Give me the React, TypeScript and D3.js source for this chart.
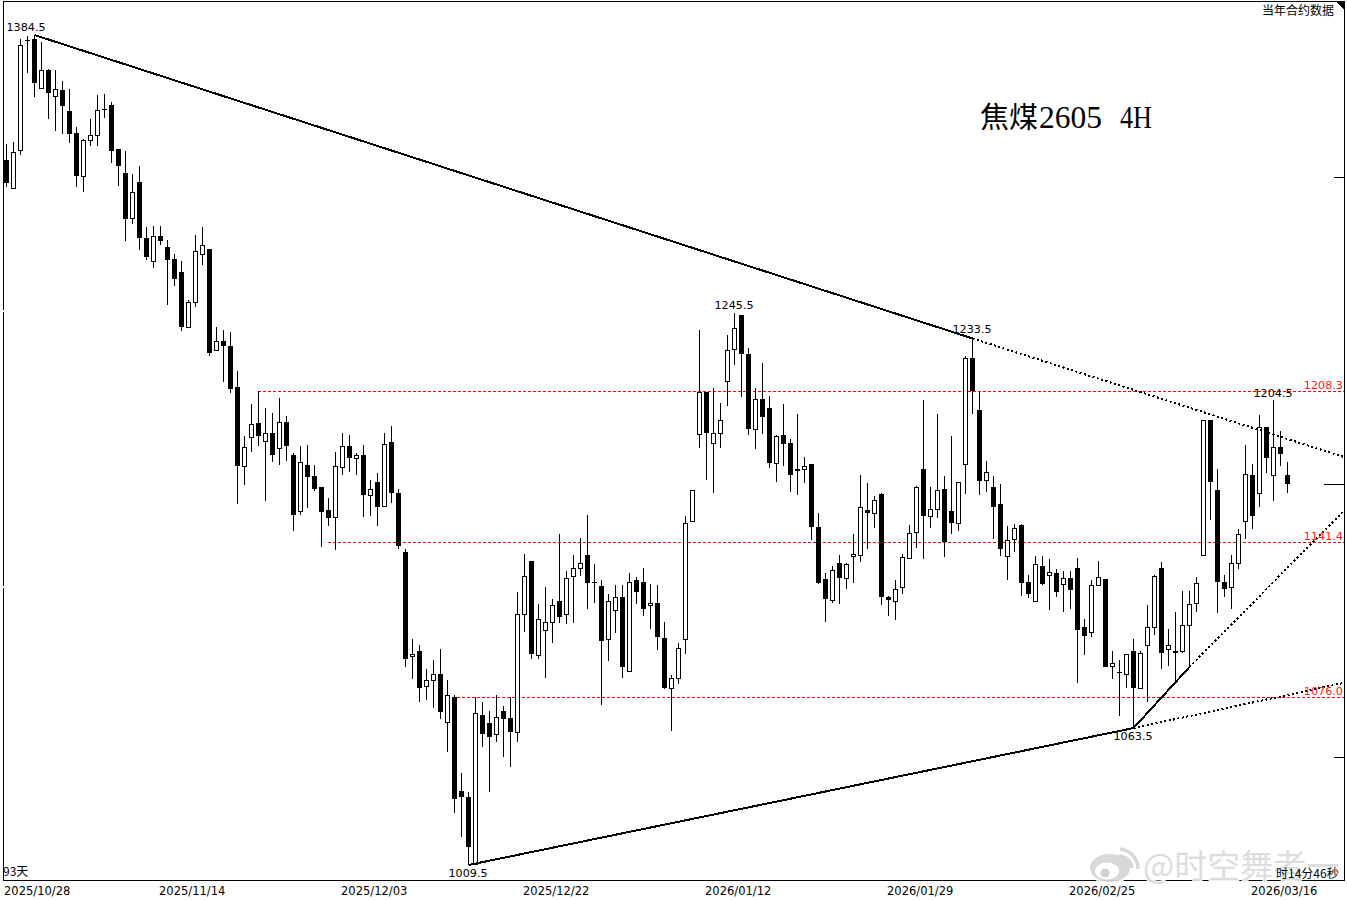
import React from "react";
import * as d3 from "d3";

const opens = [
1320,1306,1325,1382,1382.5,1357,1366,1352.5,1356,1345,
1334,1312,1330.5,1333,1346,1348,1325.5,1313.5,1291.5,1309,
1281.5,1270.5,1282.5,1277,1271.5,1265,1239,1250.5,1274,1276,
1228,1232.5,1230,1211,1175,1188,1194.5,1186.5,1190,1183,
1195,1180,1155,1175.5,1170.5,1165.5,1155.5,1152.5,1174.5,1184,
1178.5,1180,1162,1168,1157.5,1186,1163,1137,1093,1095,
1080.5,1083,1085.5,1066,1076,1038.5,1036,1010,1069,1065.5,
1061,1070.5,1067.5,1062,1110.5,1133.5,1093.5,1104,1107.5,1116,
1110.5,1127,1130.5,1136,1124.5,1122.5,1100,1112.5,1118,1087,
1125,1124.5,1114.5,1115.5,1100.5,1080,1084,1100,1150.5,1189.5,
1208.5,1185.5,1190,1213.5,1228.5,1244.5,1226,1191.5,1205.5,1201.5,
1176.5,1189,1185.5,1173.5,1173.5,1176,1148,1125.5,1116.5,1132.5,
1126,1135.5,1136,1155.5,1154,1162.5,1118,1116,1122,1134.5,
1146,1173.5,1153,1156,1165,1155,1150,1176,1224.5,1200.5,
1169,1165.5,1158,1135.5,1143,1149,1124.5,1116,1131,1127.5,
1128,1123.5,1126,1130.5,1105,1103,1123,1125.5,1089,1086.5,
1085.5,1095,1080,1097.5,1105,1130.5,1096,1095,1095,1106,
1115.5,1136,1196,1164.5,1124.5,1122,1132.5,1150.5,1171,1163,
1192.5,1171,1183.5,1171];

const highs = [
1328,1329,1382.5,1384,1384.5,1381,1366.5,1366,1360.5,1356.5,
1337,1331,1341,1353,1354,1349.5,1325.5,1324.5,1313,1317,
1287,1287.5,1287.5,1280.5,1274,1270.5,1251.5,1283,1287,1276,
1239,1237.5,1236.5,1218.5,1188.5,1203,1209,1201.5,1199,1206,
1197.5,1181,1184,1184.5,1175.5,1165.5,1161,1181.5,1190,1189,
1181,1184.5,1169,1172,1190,1193,1165,1138.5,1100,1097.5,
1087.5,1091.5,1096,1083,1077,1045.5,1038,1076,1074,1070.5,
1077,1072.5,1076,1120,1136.5,1133.5,1115,1122,1117,1145,
1129,1136,1143.5,1153.5,1132,1125,1119,1123,1123,1128,
1126.5,1130.5,1123.5,1123,1107.5,1085,1098.5,1153,1164.5,1237.5,
1208.5,1210.5,1203.5,1235,1245.5,1244.5,1229,1210.5,1222,1207,
1189,1203,1187,1198.5,1179,1176,1154,1128,1131,1136,
1132.5,1145,1171,1167.5,1161.5,1163,1118.5,1125,1136.5,1149,
1166,1205,1165.5,1198.5,1170.5,1188.5,1168,1225.5,1233.5,1208.5,
1177.5,1170.5,1167,1148.5,1149.5,1149.5,1127.5,1135.5,1135.5,1134,
1130,1129,1129,1134.5,1108.5,1125,1133.5,1125.5,1095,1091.5,
1094,1100,1095,1114.5,1127.5,1133,1104.5,1111.5,1120.5,1120.5,
1126.5,1136,1196,1173.5,1127.5,1136,1147,1184.5,1176,1198,
1192.5,1205,1191,1177];

const lows = [
1306.5,1306,1322.5,1364.5,1352,1357,1341,1335,1333.5,1328.5,
1306.5,1304,1327,1327,1341.5,1318.5,1307,1280,1288.5,1275.5,
1271,1267,1278,1249.5,1258.5,1237,1239,1248.5,1268.5,1225.5,
1228,1213,1208,1158,1166.5,1181.5,1184,1159.5,1177,1175.5,
1177.5,1146.5,1153.5,1156.5,1164,1139.5,1148.5,1138,1171,1172.5,
1171,1152.5,1153,1148.5,1157.5,1158.5,1138.5,1088.5,1083.5,1074,
1075,1071.5,1067,1054,1029.5,1020.5,1009.5,1009.5,1056,1038,
1058,1052,1048,1058,1103,1092,1092,1084,1098.5,1107,
1106.5,1107,1127,1113,1115.5,1073,1091,1102.5,1084,1087,
1115,1110,1104.5,1095.5,1079.5,1062.5,1081.5,1094,1150.5,1183,
1169,1163,1183,1202,1221,1206.5,1189,1182.5,1189.5,1174,
1168,1175,1163.5,1162,1167.5,1142.5,1123.5,1107.5,1115.5,1115,
1121.5,1124,1133,1138.5,1147.5,1114.5,1110,1108,1119,1134,
1139,1134,1147.5,1152,1135,1145,1146.5,1162.5,1198.5,1162,
1163.5,1143,1135.5,1125,1137,1118.5,1117.5,1116,1123,1112.5,
1118,1111.5,1113,1082,1093.5,1101,1123,1088.5,1083.5,1068.5,
1080,1063.5,1080,1074,1102,1087.5,1089,1082.5,1094.5,1088.5,
1111.5,1136,1151,1111,1118,1113,1130,1143,1147,1157,
1172,1159.5,1175,1163];

const closes = [
1308.5,1324,1379.5,1381.5,1359.5,1366,1354.5,1356.5,1347.5,1333.5,
1312,1330.5,1333,1345.5,1345.5,1324.5,1317,1291,1304,1281.5,
1272.5,1282.5,1280,1271,1261.5,1239,1250.5,1275,1278,1226.5,
1232.5,1230,1210,1175,1183.5,1194,1188.5,1190,1180,1195,
1184,1153.5,1177,1170,1165,1154.5,1152,1175,1184,1178.5,
1180,1162,1165,1157,1185,1163,1140,1092,1094,1080,
1083,1085.5,1070,1077,1035,1036,1016.5,1069.5,1061,1060,
1068,1067,1062,1110.5,1127,1094,1108.5,1107.5,1114.5,1109.5,
1126,1130.5,1132.5,1124,1124,1099.5,1116,1118,1088.5,1124.5,
1120,1113,1115.5,1101,1080,1084,1096.5,1150,1164.5,1208.5,
1190,1190,1196,1228,1238.5,1226,1191.5,1205.5,1197,1176.5,
1188.5,1185,1171,1173,1175,1148,1124,1117,1129.5,1126,
1132,1136.5,1157,1154,1160,1118,1116.5,1121.5,1135,1145.5,
1165.5,1153,1156,1164.5,1141.5,1150,1168,1224.5,1209,1168.5,
1172.5,1157,1138.5,1142.5,1147.5,1124,1119,1132,1123.5,1128.5,
1120,1126,1121,1104,1101.5,1123,1126.5,1088.5,1090,1086,
1094,1080,1094.5,1105,1127,1094.5,1097.5,1094.5,1106,1115,
1124,1196,1168,1124.5,1121.5,1132.5,1145,1171.5,1153,1192.5,
1178.5,1183.5,1180.5,1167];

const xTickLabels = ["2025/10/28","2025/11/14","2025/12/03","2025/12/22","2026/01/12","2026/01/29","2026/02/25","2026/03/16"];
const xTickIdx = [0,22,48,74,100,126,152,178];

const levelPrices = [1208.3, 1141.4, 1076.0];
const levelLabels = ["1208.3", "1141.4", "1076.0"];
const levelFrom = [36, 46, 63];
const levelNudge = [-1.5, 0.5, 0.5];

const peakLabels = [
  { i: 4, price: 1384.5, text: "1384.5", dx: -8, dy: -4 },
  { i: 104, price: 1245.5, text: "1245.5", dx: 0, dy: -4 },
  { i: 138, price: 1233.5, text: "1233.5", dx: 0, dy: -5 },
  { i: 181, price: 1204.5, text: "1204.5", dx: 0, dy: -4 },
];
const troughLabels = [
  { i: 66, price: 1009.5, text: "1009.5" },
  { i: 161, price: 1063.5, text: "1063.5" },
];

// trend lines: solid segment, then dotted projection to the right edge
const trends = [
  { a: [4, 1384.5], b: [138, 1233.5], end: [191.14, 1179] },
  { a: [66, 1009.5], b: [161, 1063.5], end: [191.14, 1082] },
  { a: [161, 1063.5], b: [169, 1088.5], end: [191.14, 1155.5] },
];

const rightTickPrices = [1311.5, 1167, 1052];
const lastPriceTick = 1167;

const W = 1347, H = 900;
const L = 3, R = 1344, T = 1, B = 880;

const x = d3.scaleLinear().domain([0, 183]).range([6, 1287]);
const y = d3.scaleLog().domain([1009.5, 1384.5]).range([865, 35]);
const UI = "'DejaVu Sans', sans-serif";
const CJK = "'Noto Sans CJK SC', sans-serif";

const line = d3.line<number[]>().x(d => x(d[0]) + 0.5).y(d => y(d[1]));

export default function App() {
  const candles = d3.range(opens.length);
  return (
    <svg width={W} height={H} viewBox={`0 0 ${W} ${H}`}
      style={{ position: "absolute", left: 0, top: 0, background: "#fff", display: "block" }}>
      {/* frame */}
      <g shapeRendering="crispEdges">
        <rect x={L + 0.5} y={T + 0.5} width={R - L} height={B - T} fill="#fff" stroke="#000" strokeWidth={1} />
        <rect x={2} y={310} width={3} height={2} fill="#fff" />
        <rect x={2} y={586} width={3} height={2} fill="#fff" />
        {rightTickPrices.map((p, k) => (
          <line key={k} x1={p === lastPriceTick ? 1324 : 1334} x2={R} y1={Math.round(y(p)) + 0.5} y2={Math.round(y(p)) + 0.5} stroke="#000" />
        ))}
        <path d={`M1335 1H${R}V10Z`} fill="#000" />
      </g>

      {/* horizontal levels */}
      <g shapeRendering="crispEdges">
        {levelPrices.map((p, k) => {
          const ly = Math.round(y(p)) + levelNudge[k];
          return <line key={k} x1={x(levelFrom[k])} x2={R} y1={ly} y2={ly} stroke="#ff0000" strokeWidth={1} strokeDasharray="3 2" />;
        })}
      </g>

      {/* candles */}
      <g shapeRendering="crispEdges">
        {candles.map(i => {
          const cx = x(i);
          const up = closes[i] >= opens[i];
          const top = Math.round(y(Math.max(opens[i], closes[i])));
          const bot = Math.round(y(Math.min(opens[i], closes[i])));
          return (
            <g key={i}>
              <line x1={cx + 0.5} x2={cx + 0.5} y1={Math.round(y(highs[i]))} y2={Math.round(y(lows[i]))} stroke="#000" />
              {up ? (
                <rect x={cx - 1.5} y={top + 0.5} width={4} height={Math.max(bot - top, 1)} fill="#fff" stroke="#000" />
              ) : (
                <rect x={cx - 2} y={top} width={5} height={Math.max(bot - top, 1)} fill="#000" />
              )}
            </g>
          );
        })}
      </g>

      {/* trend lines */}
      <g fill="none" stroke="#000" shapeRendering="crispEdges">
        {trends.map((t, k) => (
          <g key={k}>
            <path d={line([t.a, t.b]) || ""} strokeWidth={2} />
            <path d={line([t.b, t.end]) || ""} strokeWidth={2} strokeDasharray="2 2.5" />
          </g>
        ))}
      </g>

      {/* value labels */}
      <g fontFamily={UI} fontSize={11.2} fill="#000">
        {peakLabels.map((l, k) => (
          <text key={k} x={x(l.i) + l.dx} y={y(l.price) + l.dy} textAnchor="middle">{l.text}</text>
        ))}
        {troughLabels.map((l, k) => (
          <text key={k} x={x(l.i)} y={y(l.price) + 12} textAnchor="middle">{l.text}</text>
        ))}
      </g>
      <g fontFamily={UI} fontSize={11.2} fill="#ff1a1a">
        {levelPrices.map((p, k) => (
          <text key={k} x={1343} y={Math.round(y(p)) + levelNudge[k] - 3} textAnchor="end">{levelLabels[k]}</text>
        ))}
      </g>

      {/* time labels */}
      <g fontFamily={UI} fontSize={11.5} fill="#000">
        {xTickLabels.map((t, k) => (
          <text key={k} x={x(xTickIdx[k]) - 1 - (k === 0 ? 1 : 0)} y={895}>{t}</text>
        ))}
      </g>

      <text x={1262} y={15} fontFamily={CJK} fontSize={12} fill="#000">当年合约数据</text>
      <text x={3} y={876} fontFamily={CJK} fontSize={12} fill="#000">93天</text>

      {/* title */}
      <text x={980} y={128} fontFamily={CJK} fontSize={29} fill="#000">焦煤</text>
      <text x={1039} y={128} fontFamily="'Liberation Serif', serif" fontSize={31} textLength={63} lengthAdjust="spacingAndGlyphs" fill="#000">2605</text>
      <text x={1120} y={128} fontFamily="'Liberation Serif', serif" fontSize={31} textLength={32} lengthAdjust="spacingAndGlyphs" fill="#000">4H</text>

      {/* watermark */}
      <g opacity={0.95}>
        <ellipse cx={1110} cy={868} rx={21} ry={15} fill="#d6d6d6" stroke="#fff" strokeWidth={2} />
        <ellipse cx={1107} cy={871} rx={12} ry={8.5} fill="#fff" />
        <circle cx={1105} cy={873} r={4.5} fill="#cfcfcf" />
        <path d="M1119 856a13 13 0 0 1 13 12" fill="none" stroke="#d6d6d6" strokeWidth={3.5} />
        <path d="M1120 849a20 20 0 0 1 18 20" fill="none" stroke="#d6d6d6" strokeWidth={3.5} />
        <text x={1143} y={878} fontFamily={CJK} fontSize={33} fill="#dcdcdc" stroke="#fff" strokeWidth={2.5} paintOrder="stroke">@时空舞者一</text>
      </g>
      <text x={1276} y={878} fontFamily={CJK} fontSize={12} fill="#000">时14分46秒</text>
    </svg>
  );
}
